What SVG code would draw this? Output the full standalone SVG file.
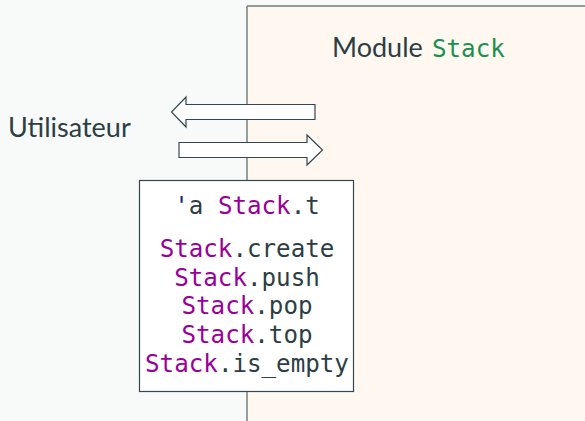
<svg xmlns="http://www.w3.org/2000/svg" width="585" height="421" viewBox="0 0 585 421">
  <style>
    .sans { font-family: Lato, "Open Sans", sans-serif; font-size: 27px; fill: #2c3e44; }
    .mono { font-family: "DejaVu Sans Mono", "Liberation Mono", monospace; font-size: 24.2px; fill: #2c3e44; }
    .mod { fill: #990099; }
    .kw { fill: #1a9050; }
    .tick { fill: #1a237e; }
    .arrow { fill: #ffffff; stroke: #34474c; stroke-width: 1.2; }
  </style>
  <rect x="0" y="0" width="585" height="421" fill="#f8f9f9"/>
  <!-- module area -->
  <g id="module">
    <rect x="247" y="6" width="345" height="420" fill="#fef8f1"/>
    <line x1="247" y1="6" x2="590" y2="6" stroke="#2c3e44" stroke-width="1.2"/>
    <line x1="247" y1="6" x2="247" y2="421" stroke="#7b878a" stroke-width="1.6"/>
    <text x="332" y="57" class="sans">Module</text>
    <text x="432" y="57" class="mono kw" font-size="23.5px">Stack</text>
  </g>
  <g id="user">
    <text x="8" y="137" class="sans">Utilisateur</text>
  </g>
  <g id="connectors">
    <path class="arrow" d="M315,104.5 L186,104.5 L186,97 L171.5,112 L186,127 L186,119.5 L315,119.5 Z"/>
    <path class="arrow" d="M179,142.5 L307,142.5 L307,135 L322.5,150 L307,165 L307,157.5 L179,157.5 Z"/>
  </g>
  <g id="interface">
    <rect x="139.5" y="180.5" width="214" height="211" fill="#ffffff" stroke="#34474c" stroke-width="1.2"/>
    <g class="mono" text-anchor="middle">
      <text x="247" y="214"><tspan class="tick">'</tspan>a <tspan class="mod">Stack</tspan>.t</text>
      <text x="247" y="257"><tspan class="mod">Stack</tspan>.create</text>
      <text x="247" y="285.5"><tspan class="mod">Stack</tspan>.push</text>
      <text x="247" y="314"><tspan class="mod">Stack</tspan>.pop</text>
      <text x="247" y="342.5"><tspan class="mod">Stack</tspan>.top</text>
      <text x="247" y="372"><tspan class="mod">Stack</tspan>.is_empty</text>
    </g>
  </g>
</svg>
